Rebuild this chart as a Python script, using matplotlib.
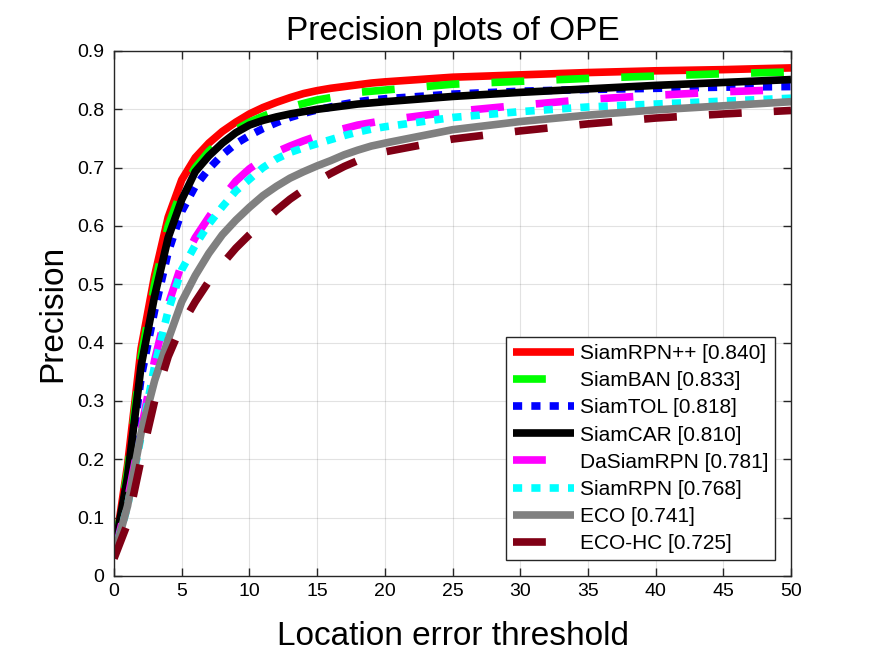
import matplotlib
matplotlib.use("Agg")
import matplotlib.pyplot as plt
import numpy as np

plt.rcParams['font.family'] = ['Liberation Sans', 'DejaVu Sans']

# location error thresholds (pixels)
thresholds = list(range(0, 21)) + [25, 30, 35, 40, 45, 50]

trackers = ['SiamRPN++', 'SiamBAN', 'SiamTOL', 'SiamCAR',
            'DaSiamRPN', 'SiamRPN', 'ECO', 'ECO-HC']
scores = [0.840, 0.833, 0.818, 0.810, 0.781, 0.768, 0.741, 0.725]

siamrpnpp = [0.035, 0.19, 0.39, 0.515, 0.615, 0.679, 0.717, 0.742, 0.762, 0.778, 0.792,
             0.803, 0.812, 0.820, 0.827, 0.832, 0.836, 0.839, 0.842, 0.845, 0.847,
             0.855, 0.859, 0.863, 0.866, 0.868, 0.871]
siamban = [0.04, 0.18, 0.375, 0.50, 0.60, 0.662, 0.700, 0.728, 0.749, 0.765, 0.778,
           0.788, 0.797, 0.804, 0.810, 0.816, 0.820, 0.825, 0.829, 0.831, 0.833,
           0.843, 0.848, 0.853, 0.857, 0.861, 0.864]
siamtol = [0.04, 0.16, 0.34, 0.455, 0.555, 0.625, 0.668, 0.698, 0.722, 0.741, 0.755,
           0.767, 0.777, 0.786, 0.793, 0.799, 0.804, 0.809, 0.813, 0.816, 0.818,
           0.826, 0.831, 0.834, 0.836, 0.838, 0.839]
siamcar = [0.04, 0.17, 0.36, 0.48, 0.58, 0.645, 0.693, 0.720, 0.742, 0.760, 0.773,
           0.781, 0.787, 0.792, 0.796, 0.800, 0.803, 0.806, 0.809, 0.811, 0.813,
           0.822, 0.829, 0.835, 0.841, 0.846, 0.851]
dasiamrpn = [0.035, 0.13, 0.25, 0.37, 0.465, 0.535, 0.580, 0.615, 0.648, 0.677, 0.698,
             0.714, 0.727, 0.737, 0.746, 0.754, 0.761, 0.767, 0.773, 0.777, 0.781,
             0.796, 0.807, 0.817, 0.824, 0.830, 0.834]
siamrpn = [0.035, 0.12, 0.24, 0.36, 0.455, 0.525, 0.567, 0.603, 0.633, 0.660, 0.680,
           0.700, 0.715, 0.726, 0.734, 0.741, 0.748, 0.755, 0.761, 0.766, 0.770,
           0.786, 0.796, 0.804, 0.809, 0.814, 0.819]
eco = [0.035, 0.12, 0.245, 0.335, 0.405, 0.470, 0.515, 0.553, 0.585, 0.610, 0.632,
       0.652, 0.668, 0.682, 0.693, 0.703, 0.712, 0.722, 0.730, 0.737, 0.742,
       0.765, 0.779, 0.790, 0.799, 0.806, 0.813]
eco_hc = [0.03, 0.09, 0.20, 0.30, 0.376, 0.430, 0.470, 0.505, 0.535, 0.562, 0.585,
          0.606, 0.627, 0.646, 0.662, 0.677, 0.690, 0.702, 0.712, 0.720, 0.727,
          0.749, 0.763, 0.775, 0.785, 0.792, 0.798]

curves = [siamrpnpp, siamban, siamtol, siamcar, dasiamrpn, siamrpn, eco, eco_hc]
colors = ['#ff0000', '#00ff00', '#0000ff', '#000000',
          '#ff00ff', '#00ffff', '#808080', '#800015']
styles = ['solid', 'dashed', 'dotted', 'solid', 'dashed', 'dotted', 'solid', 'dashed']
dash_map = {'dashed': (4.3, 4.2), 'dotted': (1.2, 1.2)}

fig = plt.figure(figsize=(8.75, 6.56), dpi=100)
ax = fig.add_axes([0.1303, 0.122, 0.7737, 0.8003])

lw = 5.5
for name, sc, y, c, st in zip(trackers, scores, curves, colors, styles):
    label = f'{name} [{sc:.3f}]'
    if st == 'solid':
        ax.plot(thresholds, y, color=c, lw=lw, label=label, solid_capstyle='butt')
    else:
        ax.plot(thresholds, y, color=c, lw=lw, label=label,
                dashes=dash_map[st], dash_capstyle='butt')

ax.set_xlim(0, 50)
ax.set_ylim(0, 0.9)
ax.set_xticks(np.arange(0, 51, 5))
ax.set_yticks(np.arange(0, 0.91, 0.1))
ax.set_yticklabels(['0'] + [f'{v:.1f}' for v in np.arange(0.1, 0.91, 0.1)])
ax.grid(True, color='#262626', alpha=0.13, lw=0.8)
ax.set_axisbelow(True)

axis_col = '#262626'
for s in ax.spines.values():
    s.set_color(axis_col)
    s.set_linewidth(1.0)
ax.tick_params(direction='in', length=6, width=1.0, top=True, right=True,
               colors=axis_col, labelcolor='#000000', labelsize=14)
ax.tick_params(axis='x', pad=5)
ax.tick_params(axis='y', pad=7)

ax.set_title('Precision plots of OPE', fontsize=24, pad=8)
ax.set_xlabel('Location error threshold', fontsize=24, labelpad=15)
ax.set_ylabel('Precision', fontsize=24, labelpad=6)

leg = ax.legend(loc='lower right', fontsize=15, handlelength=2.95,
                handletextpad=0.25, labelspacing=0.39, borderpad=0.35,
                borderaxespad=0.75, fancybox=False, framealpha=1)
leg.get_frame().set_edgecolor(axis_col)
leg.get_frame().set_linewidth(1.0)
# dashed handles show a single dash, as in the original
for hl, st in zip(leg.get_lines(), styles):
    if st == 'dashed':
        hl.set_dashes((4.3, 12))

fig.savefig('out.png', dpi=100)
